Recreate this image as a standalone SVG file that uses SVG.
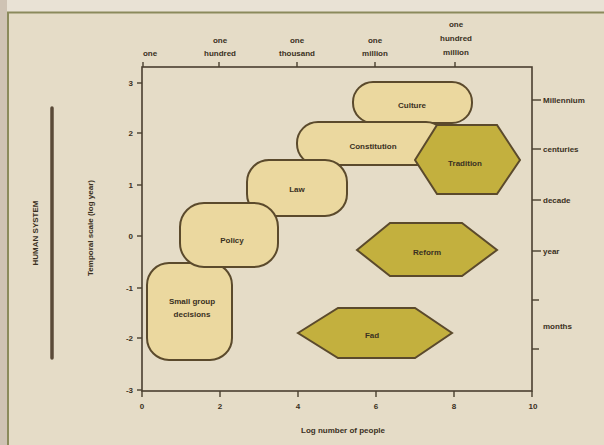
<svg xmlns="http://www.w3.org/2000/svg" width="604" height="445" viewBox="0 0 604 445">
  <style>
    text { font-family: "Liberation Sans", Arial, sans-serif; fill: #3a3022; }
    .lbl { font-size: 8px; font-weight: bold; text-anchor: middle; }
    .ax { font-size: 8px; font-weight: bold; }
    .node { font-size: 8px; font-weight: bold; text-anchor: middle; }
    .axis { stroke: #4a3f30; stroke-width: 1.6; fill: none; }
    .tick { stroke: #4a3f30; stroke-width: 1.4; }
    .soft { fill: #ebd89f; stroke: #5b4a2c; stroke-width: 2; }
    .hex { fill: #c3b03e; stroke: #5b4a2c; stroke-width: 2; }
  </style>

  <!-- backdrop and frame -->
  <rect x="0" y="0" width="604" height="445" fill="#e5dcc7"/>
  <rect x="0" y="0" width="604" height="12" fill="#e9e2d5"/>
  <rect x="0" y="0" width="7" height="445" fill="#cfc3b4"/>
  <path d="M8,445 V12.5 H604" fill="none" stroke="#8b8a5c" stroke-width="2"/>

  <!-- side title -->
  <text class="ax" transform="translate(38,233) rotate(-90)" text-anchor="middle" font-size="8.5">HUMAN SYSTEM</text>
  <line x1="52" y1="108" x2="52" y2="358" stroke="#5a4a38" stroke-width="3.5" stroke-linecap="round"/>

  <!-- axis titles -->
  <text class="ax" transform="translate(93,228) rotate(-90)" text-anchor="middle">Temporal scale (log year)</text>
  <text class="ax" x="343" y="433" text-anchor="middle">Log number of people</text>

  <!-- plot frame -->
  <rect class="axis" x="142" y="67" width="390" height="324"/>

  <!-- left ticks -->
  <g class="tick">
    <line x1="137" y1="83" x2="142" y2="83"/>
    <line x1="137" y1="133" x2="142" y2="133"/>
    <line x1="137" y1="185" x2="142" y2="185"/>
    <line x1="137" y1="236" x2="142" y2="236"/>
    <line x1="137" y1="288" x2="142" y2="288"/>
    <line x1="137" y1="338" x2="142" y2="338"/>
    <line x1="137" y1="390" x2="142" y2="390"/>
  </g>
  <g class="ax" text-anchor="end">
    <text x="133" y="86">3</text>
    <text x="133" y="136">2</text>
    <text x="133" y="188">1</text>
    <text x="133" y="239">0</text>
    <text x="133" y="291">-1</text>
    <text x="133" y="341">-2</text>
    <text x="133" y="393">-3</text>
  </g>

  <!-- bottom ticks -->
  <g class="tick">
    <line x1="142" y1="391" x2="142" y2="397"/>
    <line x1="220" y1="391" x2="220" y2="397"/>
    <line x1="298" y1="391" x2="298" y2="397"/>
    <line x1="376" y1="391" x2="376" y2="397"/>
    <line x1="454" y1="391" x2="454" y2="397"/>
    <line x1="532" y1="391" x2="532" y2="397"/>
  </g>
  <g class="lbl">
    <text x="142" y="409">0</text>
    <text x="220" y="409">2</text>
    <text x="298" y="409">4</text>
    <text x="376" y="409">6</text>
    <text x="454" y="409">8</text>
    <text x="533" y="409">10</text>
  </g>

  <!-- top ticks and population labels -->
  <g class="tick">
    <line x1="143" y1="62" x2="143" y2="67"/>
    <line x1="219" y1="62" x2="219" y2="67"/>
    <line x1="297" y1="62" x2="297" y2="67"/>
    <line x1="375" y1="62" x2="375" y2="67"/>
    <line x1="455" y1="62" x2="455" y2="67"/>
  </g>
  <g class="lbl">
    <text x="150" y="56">one</text>
    <text x="220" y="43">one</text>
    <text x="220" y="56">hundred</text>
    <text x="297" y="43">one</text>
    <text x="297" y="56">thousand</text>
    <text x="375" y="43">one</text>
    <text x="375" y="56">million</text>
    <text x="456" y="27">one</text>
    <text x="456" y="41">hundred</text>
    <text x="456" y="55">million</text>
  </g>

  <!-- right ticks and time labels -->
  <g class="tick">
    <line x1="532" y1="100" x2="541" y2="100"/>
    <line x1="532" y1="149" x2="541" y2="149"/>
    <line x1="532" y1="200" x2="541" y2="200"/>
    <line x1="532" y1="251" x2="541" y2="251"/>
    <line x1="532" y1="300" x2="539" y2="300"/>
    <line x1="532" y1="349" x2="539" y2="349"/>
  </g>
  <g class="ax">
    <text x="543" y="103">Millennium</text>
    <text x="543" y="152">centuries</text>
    <text x="543" y="203">decade</text>
    <text x="543" y="254">year</text>
    <text x="543" y="329">months</text>
  </g>

  <!-- nodes -->
  <g id="culture">
    <rect class="soft" x="353" y="82" width="119" height="41" rx="20"/>
    <text class="node" x="412" y="108">Culture</text>
  </g>
  <g id="constitution">
    <rect class="soft" x="297" y="122" width="150" height="43" rx="21"/>
    <text class="node" x="373" y="149">Constitution</text>
  </g>
  <g id="tradition">
    <polygon class="hex" points="415,160 437,125 497,125 520,160 497,194 437,194"/>
    <text class="node" x="465" y="166">Tradition</text>
  </g>
  <g id="law">
    <rect class="soft" x="247" y="160" width="100" height="56" rx="22"/>
    <text class="node" x="297" y="192">Law</text>
  </g>
  <g id="small-group">
    <rect class="soft" x="147" y="263" width="85" height="97" rx="22"/>
    <text class="node" x="192" y="304">Small group</text>
    <text class="node" x="192" y="317">decisions</text>
  </g>
  <g id="policy">
    <rect class="soft" x="180" y="203" width="98" height="64" rx="24"/>
    <text class="node" x="232" y="243">Policy</text>
  </g>
  <g id="reform">
    <polygon class="hex" points="357,250 390,223 462,223 497,250 462,276 390,276"/>
    <text class="node" x="427" y="255">Reform</text>
  </g>
  <g id="fad">
    <polygon class="hex" points="298,333 338,308 415,308 452,333 415,358 338,358"/>
    <text class="node" x="372" y="338">Fad</text>
  </g>

  <!-- no connectors in this figure -->
  <g id="connectors"/>
</svg>
